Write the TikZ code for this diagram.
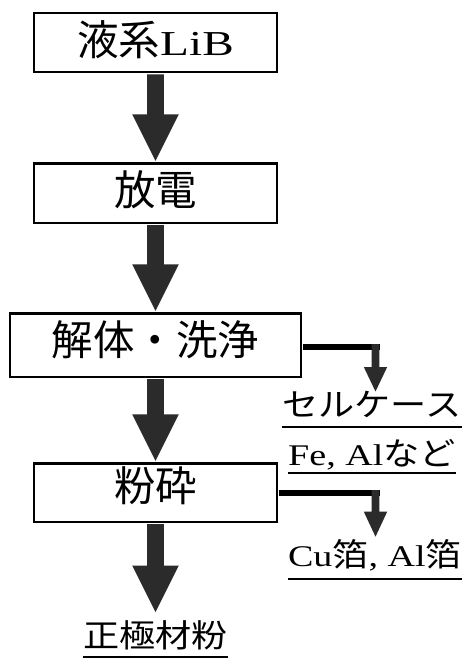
\documentclass[tikz,border=0pt]{standalone}
\usepackage{fontspec}
\setmainfont{Liberation Serif}
\newfontfamily\jp{Noto Sans CJK JP}
\usetikzlibrary{calc}
\definecolor{arrowgray}{HTML}{2B2B2B}
\newcommand\jbox[1]{{\fontsize{41.5pt}{41.5pt}\selectfont\jp #1}}
\newcommand\lbox[1]{{\fontsize{35pt}{35pt}\selectfont\scalebox{1.35}[1]{#1}}}
\newcommand\jlab[1]{{\fontsize{32pt}{32pt}\selectfont\jp\scalebox{1.13}[1]{#1}}}
\newcommand\llab[1]{{\fontsize{30pt}{30pt}\selectfont\scalebox{1.27}[1]{#1}}}
\newcommand\mainarrow[2]{%
  \fill[arrowfill] ($(#1.south)+(-8.3,1.2)$) -- ($(#1.south)+(8.3,1.2)$)
    -- ($(#2)+(8.3,-46.5)$) -- ($(#2)+(23.3,-46.5)$) -- (#2)
    -- ($(#2)+(-23.3,-46.5)$) -- ($(#2)+(-8.3,-46.5)$) -- cycle;}
\newcommand\sidearrow[3]{%
  \fill[arrowfill] ($(#1)+(-3.85,0)$) -- ($(#1)+(3.85,0)$)
    -- ($(#2)+(3.85,-#3)$) -- ($(#2)+(11.7,-#3)$) -- (#2)
    -- ($(#2)+(-11.7,-#3)$) -- ($(#2)+(-3.85,-#3)$) -- cycle;}
\newcommand\ulabel[2]{%
  \draw[ul] ($(#1.base west)+(0,#2)$) -- ($(#1.base east)+(0,#2)$);}
\begin{document}
\begin{tikzpicture}[x=1pt,y=-1pt,
  stepbox/.style={draw=black, line width=2.5pt, fill=white, inner sep=0pt, minimum width=243pt},
  arrowfill/.style={fill=arrowgray},
  hline/.style={draw=black, line width=6pt},
  lab/.style={inner sep=0pt, anchor=base},
  ul/.style={draw=black, line width=2pt}]
\useasboundingbox (0,0) rectangle (468,659);
\fill[white] (0,0) rectangle (468,659);
% boxes
\node[stepbox, text height=42pt, text depth=17pt] (b1) at (155.5,42.5) {\jbox{液系}\lbox{LiB}};
\node[stepbox, text height=41.75pt, text depth=17.75pt] (b2) at (155.5,193) {\jbox{放電}};
\node[stepbox, minimum width=291pt, text height=41.75pt, text depth=21.75pt] (b3) at (155.5,345) {\jbox{解体・洗浄}};
\node[stepbox, text height=37.75pt, text depth=20.75pt] (b4) at (155.5,492.5) {\jbox{粉砕}};
% labels
\node[lab] (l1) at (372,416.5) {\jlab{セルケース}};
\node[lab] (l2) at (372,465) {\llab{Fe, Al}\jlab{など}};
\node[lab] (l3) at (375,566.5) {\llab{Cu}\jlab{箔}\llab{, Al}\jlab{箔}};
\node[lab] (l4) at (155.5,647) {\jlab{正極材粉}};
\ulabel{l1}{10.5}
\ulabel{l2}{8}
\ulabel{l3}{12.5}
\ulabel{l4}{10}
% main arrows
\coordinate (e4) at (155.5,612);
\mainarrow{b1}{$(b2.north)+(0,-1.2)$}
\mainarrow{b2}{$(b3.north)+(0,-1.2)$}
\mainarrow{b3}{$(b4.north)+(0,-1.2)$}
\mainarrow{b4}{e4}
% side arrows
\coordinate (s1) at (375.5,391.5);
\coordinate (s2) at (375.5,536.7);
\draw[hline] ($(b3.east)+(1.2,2)$) -- ($(s1|-b3.east)+(4.3,2)$);
\sidearrow{$(s1|-b3.east)+(0,-1)$}{s1}{24.5}
\draw[hline] ($(b4.east)+(1.2,0.5)$) -- ($(s2|-b4.east)+(4.3,0.5)$);
\sidearrow{$(s2|-b4.east)+(0,-2.5)$}{s2}{25}
\end{tikzpicture}
\end{document}
